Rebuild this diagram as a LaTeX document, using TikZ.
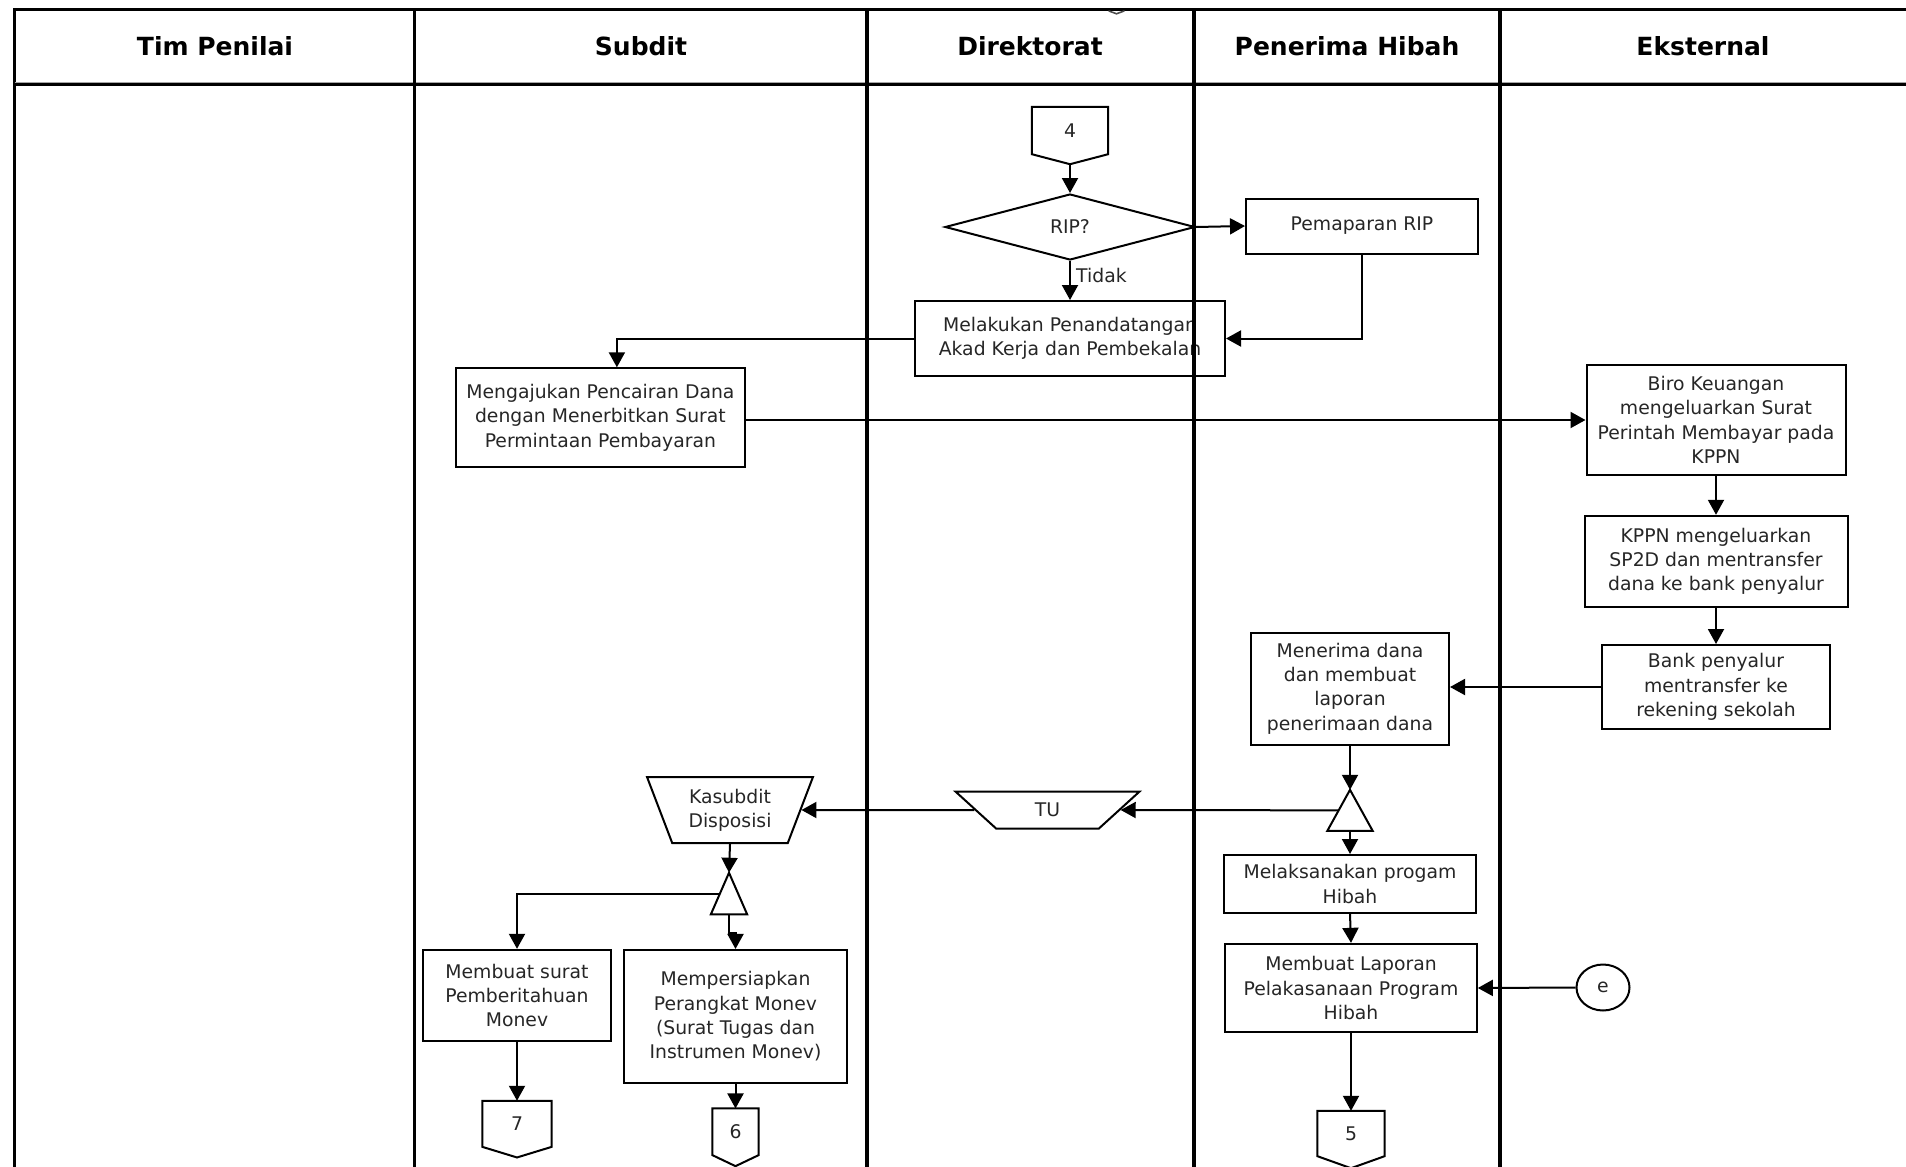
\documentclass[tikz,border=0pt]{standalone}
\usepackage{fontspec}
\setmainfont{DejaVu Sans}
\usetikzlibrary{arrows.meta,shapes.geometric,calc}
\definecolor{ink}{HTML}{262626}

% draws the off-page connector outline around a node: a box with a pointed foot
\newcommand\offpagepath[2]{%
  \draw[shapeline] (#1.north west) -- (#1.north east) -- (#1.south east)
    -- ([yshift=-#2]#1.south) -- (#1.south west) -- cycle;}
% draws the merge triangle inside the bounds of a node
\newcommand\mergepath[1]{%
  \draw[shapeline] (#1.north) -- (#1.south east) -- (#1.south west) -- cycle;}

\begin{document}
\begin{tikzpicture}[x=1pt,y=-1pt,
  txt/.style={font=\fontsize{18.8}{24.3}\selectfont, text=ink},
  head/.style={font=\fontsize{25}{30}\selectfont\bfseries, text=black},
  box/.style={txt, draw, line width=2pt, align=center, inner sep=2pt},
  conn/.style={txt, inner sep=0pt},
  arr/.style={line width=2pt, -{Triangle[length=15pt,width=16pt]}},
  shapeline/.style={line width=2pt, line join=miter},
  lane/.style={line width=3.6pt},
  manual/.style={txt, draw, line width=2pt, align=center, trapezium,
    shape border rotate=180, trapezium stretches=true, inner sep=1pt},
  mergept/.style={inner sep=0pt, minimum width=#1},
]
\useasboundingbox (0,0) rectangle (1906,1167);

% ---------- lane headers ----------
\node[head] (hTim) at (215,46) {Tim Penilai};
\node[head] (hSub) at (641,46) {Subdit};
\node[head] (hDir) at (1030,46) {Direktorat};
\node[head] (hPen) at (1347,46) {Penerima Hibah};
\node[head] (hEks) at (1703,46) {Eksternal};

% ---------- Direktorat ----------
\node[conn, minimum width=76pt, minimum height=47pt] (c4) at (1070,130.5) {4};
\offpagepath{c4}{10pt}
\node[txt, draw, diamond, aspect=3.79, minimum width=250pt, minimum height=66pt,
  inner sep=0pt, line width=2pt] (rip) at (1070,227) {RIP?};
\node[box, minimum width=310pt, minimum height=75pt] (mel) at (1070,338.5)
  {Melakukan Penandatangan\\Akad Kerja dan Pembekalan};
\node[txt, anchor=west, inner sep=0pt] (tidak) at (1076,275) {Tidak};
\node[manual, trapezium left angle=56, trapezium right angle=56,
  minimum width=185pt, minimum height=37pt] (tu) at (1047.5,810) {TU};

% ---------- Penerima Hibah ----------
\node[box, minimum width=232pt, minimum height=55pt] (pem) at (1362,226) {Pemaparan RIP};
\node[box, minimum width=198pt, minimum height=112pt] (ter) at (1350,688.5)
  {Menerima dana\\dan membuat\\laporan\\penerimaan dana};
\node[mergept=45pt, minimum height=40.7pt] (m1) at (1350,810.35) {};
\mergepath{m1}
\coordinate (m1l) at ($(m1.north)!0.5!(m1.south west)$);
\node[box, minimum width=252pt, minimum height=58pt] (laks) at (1350,884)
  {Melaksanakan progam\\Hibah};
\node[box, minimum width=251.6pt, minimum height=88.3pt] (lap) at (1351,988)
  {Membuat Laporan\\Pelakasanaan Program\\Hibah};
\node[conn, minimum width=66.7pt, minimum height=45pt] (c5) at (1351,1133.5) {5};
\offpagepath{c5}{12pt}

% ---------- Subdit ----------
\node[box, minimum width=289pt, minimum height=99pt] (aju) at (600.4,417.8)
  {Mengajukan Pencairan Dana\\dengan Menerbitkan Surat\\Permintaan Pembayaran};
\node[manual, trapezium left angle=67.4, trapezium right angle=67.4,
  minimum width=166pt, minimum height=66pt] (kas) at (730,810) {Kasubdit\\Disposisi};
\node[mergept=36pt, minimum height=41.3pt] (m2) at (729,893.6) {};
\mergepath{m2}
\coordinate (m2l) at ($(m2.north)!0.5!(m2.south west)$);
\node[box, minimum width=188pt, minimum height=91pt] (surat) at (517,995.3)
  {Membuat surat\\Pemberitahuan\\Monev};
\node[box, minimum width=223.3pt, minimum height=132.7pt] (siap) at (735.5,1016.3)
  {Mempersiapkan\\Perangkat Monev\\(Surat Tugas dan\\Instrumen Monev)};
\node[conn, minimum width=69pt, minimum height=45.7pt] (c7) at (517,1123.8) {7};
\offpagepath{c7}{10.6pt}
\node[conn, minimum width=45.7pt, minimum height=46.3pt] (c6) at (735.5,1131.8) {6};
\offpagepath{c6}{11pt}

% ---------- Eksternal ----------
\node[box, minimum width=259pt, minimum height=110pt] (biro) at (1716,420)
  {Biro Keuangan\\mengeluarkan Surat\\Perintah Membayar pada\\KPPN};
\node[box, minimum width=263pt, minimum height=91pt] (kppn) at (1716,561.3)
  {KPPN mengeluarkan\\SP2D dan mentransfer\\dana ke bank penyalur};
\node[box, minimum width=228pt, minimum height=84pt] (bank) at (1716,687)
  {Bank penyalur\\mentransfer ke\\rekening sekolah};
\node[txt, draw, ellipse, line width=2pt, minimum width=53pt, minimum height=46pt,
  inner sep=0pt] (e) at (1603,987.5) {e};

% ---------- connectors ----------
\draw[arr] ([yshift=-10pt]c4.south) -- (rip.north);
\draw[arr] (rip.east) -- (pem.west);
\draw[arr] (rip.south) -- (mel.north);
\draw[arr] (pem.south) |- (mel.east);
\draw[arr] (mel.west) -| ([xshift=16.5pt]aju.north);
\draw[arr] (aju.east |- biro.west) -- (biro.west);
\draw[arr] (biro.south) -- (kppn.north);
\draw[arr] (kppn.south) -- (bank.north);
\draw[arr] (bank.west) -- (bank.west -| ter.east);
\draw[arr] (ter.south) -- (m1.north);
\draw[arr] (m1l) -- (tu.0);
\draw[arr] (tu.180) -- (kas.0);
\draw[arr] (kas.270) -- (m2.north);
\draw[arr] (m2l) -| (surat.north);
\draw[arr] (m2.south) -- ++(0,19) -| (siap.north);
\draw[arr] (surat.south) -- (c7.north);
\draw[arr] (siap.south) -- (c6.north);
\draw[arr] (m1.south) -- (laks.north);
\draw[arr] (laks.south) -- (lap.north);
\draw[arr] (e.west) -- (lap.east);
\draw[arr] (lap.south) -- (c5.north);

% ---------- swimlane frame ----------
\draw[line width=2.6pt] (14.5,9.5) -- (1906,9.5);
\draw[line width=2.6pt] (14.5,8.2) -- (14.5,1167);
\draw[line width=4.2pt, black!35] (14.5,83.8) -- (1906,83.8);
\draw[line width=3pt] (14.5,84) -- (1906,84);
\foreach \lx in {414.5,866.7,1193.7,1500}
  \draw[lane] (\lx,8.2) -- (\lx,1167);
% tip of a connector cut off at the top edge
\draw[line width=1.6pt, black!70, line cap=round] (1109,11) -- (1116.5,13.8) -- (1124,11);
\end{tikzpicture}
\end{document}
